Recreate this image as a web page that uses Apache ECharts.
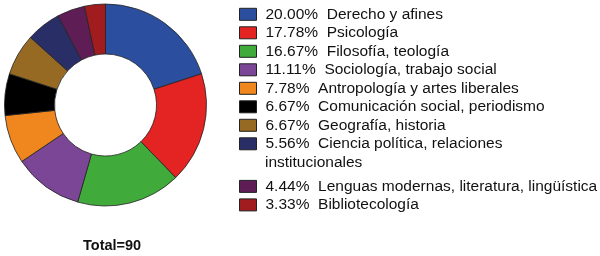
<!DOCTYPE html>
<html><head><meta charset="utf-8">
<script src="https://cdn.jsdelivr.net/npm/echarts@6/dist/echarts.min.js"></script>
<style>html,body{margin:0;padding:0;background:#fff}#c{width:600px;height:256px}</style>
</head><body><div id="c"></div>
<script>
const categories = ["Derecho y afines","Psicología","Filosofía, teología","Sociología, trabajo social","Antropología y artes liberales","Comunicación social, periodismo","Geografía, historia","Ciencia política, relaciones institucionales","Lenguas modernas, literatura, lingüística","Bibliotecología"];
const values = [18,16,15,10,7,6,6,5,4,3];
const colors = ["#2B4F9E","#E32423","#40AA3A","#7B4696","#F0861E","#000000","#976A24","#2A2E66","#5E1E55","#A11C1E"];
const total = values.reduce((a,b)=>a+b,0);
const pct = {};
categories.forEach((c,i)=>{pct[c]=(values[i]/total*100).toFixed(2)+'%';});
const firstLine = {"Ciencia política, relaciones institucionales":"Ciencia política, relaciones"};
const fmt = n => pct[n] + '  ' + (firstLine[n] || n);
const font = 'Liberation Sans, Arial, sans-serif';
const legendBase = {
  orient:'vertical', left:239, padding:0, itemWidth:17, itemHeight:12, itemGap:2.5,
  icon:'rect', selectedMode:false, formatter: fmt,
  itemStyle:{borderColor:'#222', borderWidth:1},
  textStyle:{fontFamily:font, fontSize:15.5, color:'#111', lineHeight:16, padding:[0,0,0,4]}
};
const chart = echarts.init(document.getElementById('c'), null, {renderer:'canvas'});
chart.setOption({
  animation:false,
  color: colors,
  legend:[
    Object.assign({}, legendBase, {top:6.3, data:categories.slice(0,8)}),
    Object.assign({}, legendBase, {top:178.4, data:categories.slice(8)})
  ],
  graphic:[
    {type:'text', left:265, top:154.5, style:{text:'institucionales', font:'15.5px '+font, fill:'#111'}},
    {type:'text', left:83, top:238, style:{text:'Total='+total, font:'bold 14.5px '+font, fill:'#111'}}
  ],
  series:[{
    type:'pie', center:[105.5,105], radius:[51,101], startAngle:90, clockwise:true,
    label:{show:false}, labelLine:{show:false}, silent:true,
    itemStyle:{borderColor:'#222', borderWidth:0.8},
    data: categories.map((c,i)=>({name:c, value:values[i]}))
  }]
});
</script></body></html>
